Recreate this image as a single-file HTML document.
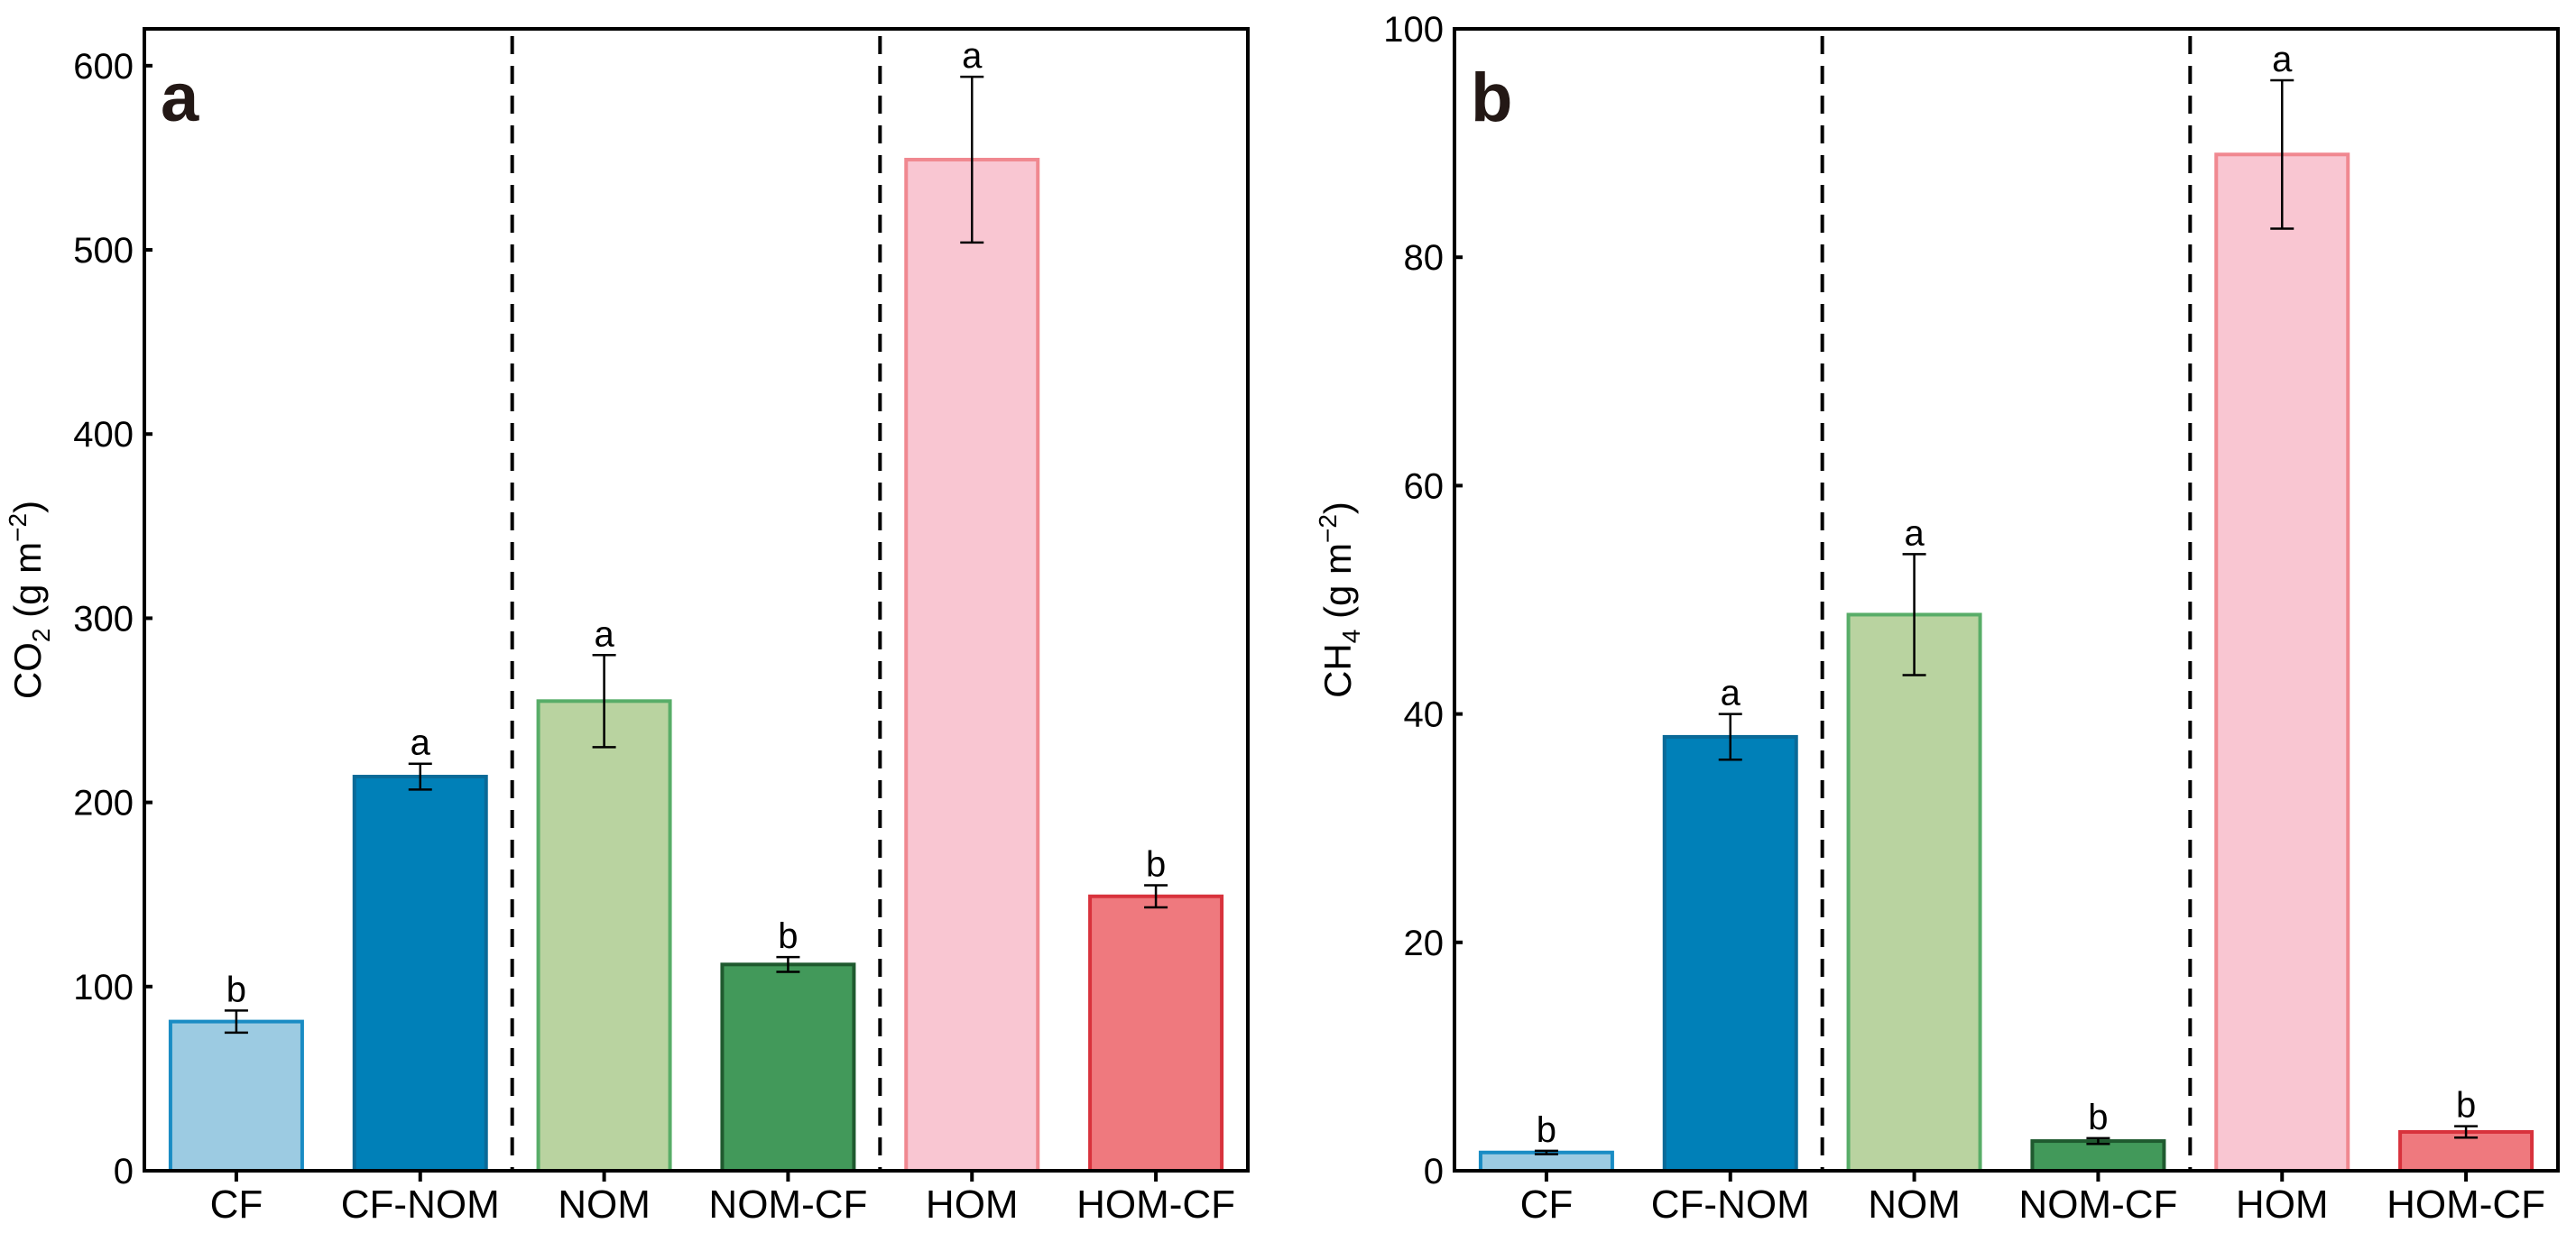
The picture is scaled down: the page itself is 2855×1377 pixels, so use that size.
<!DOCTYPE html>
<html><head><meta charset="utf-8"><style>
html,body{margin:0;padding:0;background:#fff}
svg{display:block;font-family:"Liberation Sans",Arial,sans-serif}
</style></head><body>
<svg id="chart" width="2855" height="1377" viewBox="0 0 2855 1377" xmlns="http://www.w3.org/2000/svg"></svg>
<script>
const categories = ["CF","CF-NOM","NOM","NOM-CF","HOM","HOM-CF"];
const co2Values = [81,214,255,112,549,149];
const co2Errors = [6,7,25,4,45,6];
const co2Letters = ["b","a","a","b","a","b"];
const co2Ticks = [0,100,200,300,400,500,600];
const ch4Values = [1.6,38,48.7,2.6,89,3.4];
const ch4Errors = [0.15,2,5.3,0.25,6.5,0.5];
const ch4Letters = ["b","a","a","b","a","b"];
const ch4Ticks = [0,20,40,60,80,100];
const fills = ["#9ccbe2","#0080b8","#b9d3a0","#42995a","#f9c6d2","#ef797e"];
const strokes = ["#1a8cc4","#0a6a98","#58ad68","#1f5a2f","#f08890","#d8323c"];

const NS="http://www.w3.org/2000/svg";
const svg=document.getElementById('chart');
function mk(tag,attrs,parent,name,text){
  const e=document.createElementNS(NS,tag);
  for(const k in attrs)e.setAttribute(k,attrs[k]);
  
  
  if(text!==undefined)e.textContent=text;
  (parent||svg).appendChild(e);return e;
}
function panel(cfg){
  const g=mk('g',{},svg,cfg.id);
  const L=cfg.left,R=cfg.left+1223,T=32,B=1298;
  const y=v=>B-(v/cfg.max)*(B-T);
  const step=(R-L)/categories.length;
  const x=i=>L+step*(i+0.5);
  const bw=146;
  // dashed separators
  [2,4].forEach(k=>{
    const dx=L+step*k;
    mk('line',{x1:dx,x2:dx,y1:T+8,y2:B,stroke:'#000','stroke-width':4,'stroke-dasharray':'20 13'},g,'group-separator');
  });
  cfg.values.forEach((v,i)=>{
    mk('rect',{x:x(i)-bw/2,y:y(v),width:bw,height:B-y(v),fill:fills[i],stroke:strokes[i],'stroke-width':4},g,'bar-'+categories[i].toLowerCase());
    const e=cfg.errors[i],yt=y(v+e),yb=y(v-e);
    mk('line',{x1:x(i),x2:x(i),y1:yt,y2:yb,stroke:'#000','stroke-width':2.5},g,'error-bar');
    mk('line',{x1:x(i)-13,x2:x(i)+13,y1:yt,y2:yt,stroke:'#000','stroke-width':2.5},g,'error-cap-top');
    mk('line',{x1:x(i)-13,x2:x(i)+13,y1:yb,y2:yb,stroke:'#000','stroke-width':2.5},g,'error-cap-bottom');
    mk('text',{x:x(i),y:yt-10,'font-size':40,'text-anchor':'middle',fill:'#000'},g,'significance-letter',cfg.letters[i]);
    mk('line',{x1:x(i),x2:x(i),y1:B,y2:B+12,stroke:'#000','stroke-width':4},g,'x-tick');
    mk('text',{x:x(i),y:B+52,'font-size':44,'text-anchor':'middle',fill:'#000'},g,'x-tick-label',categories[i]);
  });
  cfg.ticks.forEach(t=>{
    mk('line',{x1:L,x2:L+9,y1:y(t),y2:y(t),stroke:'#000','stroke-width':4},g,'y-tick');
    mk('text',{x:L-12,y:y(t)+14,'font-size':40,'text-anchor':'end',fill:'#000'},g,'y-tick-label',t);
  });
  mk('rect',{x:L,y:T,width:R-L,height:B-T,fill:'none',stroke:'#000','stroke-width':4},g,'plot-frame');
  mk('text',{x:L+18,y:T+102,'font-size':76,'font-weight':'bold',fill:'#231815'},g,'panel-label',cfg.label);
  const t=mk('text',{transform:`translate(${L-115},${(T+B)/2}) rotate(-90)`,'font-size':42,'text-anchor':'middle',fill:'#000'},g,'y-axis-title');
  const s1=mk('tspan',{},t,'y-title-main',cfg.gas);
  const s2=mk('tspan',{'font-size':28,dy:10},t,'y-title-subscript',cfg.sub);
  const s3=mk('tspan',{dy:-10},t,'y-title-unit',' (g m');
  const s4=mk('tspan',{'font-size':28,dy:-16},t,'y-title-superscript','\u22122');
  const s5=mk('tspan',{dy:16},t,'y-title-close',')');
}
panel({id:'panel-a',left:160,max:620,values:co2Values,errors:co2Errors,letters:co2Letters,ticks:co2Ticks,label:'a',gas:'CO',sub:'2'});
panel({id:'panel-b',left:1612,max:100,values:ch4Values,errors:ch4Errors,letters:ch4Letters,ticks:ch4Ticks,label:'b',gas:'CH',sub:'4'});
</script>
</body></html>
